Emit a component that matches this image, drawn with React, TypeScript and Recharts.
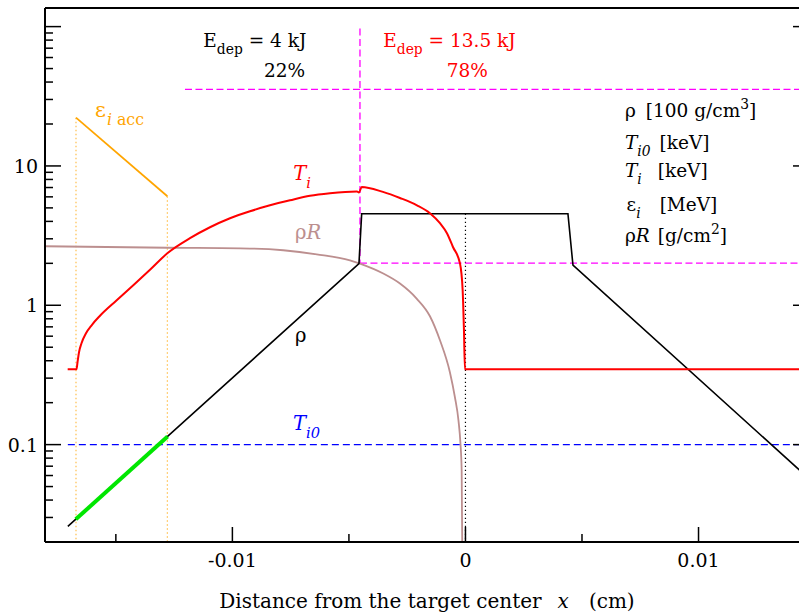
import React from 'react';
import { ComposedChart, Line, XAxis, YAxis, ReferenceDot } from 'recharts';

const SERIF = "'DejaVu Serif', serif";

// axis ranges: x in cm, y on a log scale
const xDomain: [number, number] = [-0.01804, 0.01474];
const yDomain: [number, number] = [0.02, 136];

const xTicks = [-0.015, -0.01, -0.005, 0, 0.005, 0.01];
const xTickLabels = [-0.01, 0, 0.01];
const yTicks = [
  0.02, 0.03, 0.04, 0.05, 0.06, 0.07, 0.08, 0.09,
  0.1, 0.2, 0.3, 0.4, 0.5, 0.6, 0.7, 0.8, 0.9,
  1, 2, 3, 4, 5, 6, 7, 8, 9,
  10, 20, 30, 40, 50, 60, 70, 80, 90, 100,
];
const yMajorTicks = [0.1, 1, 10, 100];
const yTickLabels = [0.1, 1, 10];

// density rho [100 g/cm^3]
const rhoX = [-0.01706, -0.004569, -0.004453, 0.004397, 0.004612, 0.014742];
const rhoY = [0.0259, 1.99, 4.54, 4.54, 1.94, 0.0569];

// part of the shell that gets accelerated
const accX = [-0.01672, -0.01278];
const accY = [0.0291, 0.1144];

// ion energy during acceleration, eps_i acc [MeV]
const epsX = [-0.01671, -0.01279];
const epsY = [22.2, 6.06];

// ion temperature T_i [keV]
const tiX = [
  -0.017067, -0.016688, -0.016645, -0.016581, -0.016474, -0.016281, -0.016024,
  -0.01568, -0.014964, -0.014252, -0.013535, -0.012763, -0.011819, -0.010961,
  -0.010103, -0.009245, -0.008387, -0.007529, -0.006671, -0.005813, -0.004655,
  -0.004569, -0.004453, -0.003539, -0.00281, -0.002081, -0.001523, -0.001094,
  -0.000794, -0.000536, -0.000236, -0.00012, -0.0000644, -0.0000215, 0.014742,
];
const tiY = [
  0.347, 0.347, 0.39, 0.46, 0.5336, 0.6295, 0.7244,
  0.841, 1.086, 1.392, 1.798, 2.382, 3.03, 3.63,
  4.21, 4.73, 5.22, 5.67, 6.11, 6.37, 6.55,
  6.44, 7.07, 6.51, 5.89, 5.22, 4.58, 3.88,
  3.29, 2.62, 2.0, 1.28, 0.661, 0.347, 0.347,
];

// areal density rho R [g/cm^2]
const rrX = [
  -0.01804, -0.012763, -0.009245, -0.007817, -0.006384, -0.004955, -0.004526,
  -0.003526, -0.00281, -0.002094, -0.001523, -0.001094, -0.000665, -0.00045,
  -0.0003, -0.000215, -0.000163, -0.000137,
];
const rrY = [
  2.652, 2.588, 2.553, 2.482, 2.323, 2.104, 1.99,
  1.689, 1.432, 1.117, 0.834, 0.561, 0.3294, 0.2179,
  0.1494, 0.1021, 0.0654, 0.018,
];

// initial ion temperature T_i0 [keV]
const ti0X = [-0.01706, 0.01474];
const ti0Y = [0.1, 0.1];

// guide lines
const depVX = [-0.004526, -0.004526];
const depVY = [96.9, 1.99];
const depTopX = [-0.012034, 0.01474];
const depTopY = [35.5, 35.5];
const depLowX = [-0.004526, 0.01474];
const depLowY = [2.01, 2.01];
const centerX = [0, 0];
const centerY = [4.54, 0.02];
const accStartX = [-0.01671, -0.01671];
const accStartY = [22.2, 0.02];
const accEndX = [-0.01279, -0.01279];
const accEndY = [6.06, 0.02];

const pts = (xs: number[], ys: number[]) => xs.map((x, i) => ({ x, y: ys[i] }));

type Part = { t: string; it?: boolean; sub?: boolean; sup?: boolean; dx?: number };

const Rich = ({ x, y, parts, size, fill, anchor = 'start' }: {
  x: number; y: number; parts: Part[]; size: number; fill: string; anchor?: string;
}) => {
  let level = 0;
  return (
    <text x={x} y={y} fontFamily={SERIF} fontSize={size} fill={fill} textAnchor={anchor}
      style={{ whiteSpace: 'pre' }}>
      {parts.map((p, k) => {
        const target = p.sub ? size * 0.4 : p.sup ? -size * 0.45 : 0;
        const dy = target - level;
        level = target;
        return (
          <tspan key={k} dx={p.dx} dy={dy} fontStyle={p.it ? 'italic' : 'normal'}
            fontSize={p.sub || p.sup ? size * 0.75 : size}>
            {p.t}
          </tspan>
        );
      })}
    </text>
  );
};

// text placed at data coordinates (baseline-left)
const notes: { x: number; y: number; size: number; fill: string; parts: Part[] }[] = [
  { x: -0.011248, y: 71.5, size: 18.5, fill: '#000', parts: [{ t: 'E' }, { t: 'dep', sub: true }, { t: ' = 4 kJ' }] },
  { x: -0.008644, y: 43.5, size: 18.5, fill: '#000', parts: [{ t: '22%' }] },
  { x: -0.003526, y: 71.5, size: 18.5, fill: '#ff0000', parts: [{ t: 'E' }, { t: 'dep', sub: true }, { t: ' = 13.5 kJ' }] },
  { x: -0.000807, y: 43.5, size: 18.5, fill: '#ff0000', parts: [{ t: '78%' }] },
  { x: 0.006843, y: 22.48, size: 18.5, fill: '#000', parts: [{ t: 'ρ' }, { t: '[100 g/cm', dx: 10 }, { t: '3', sup: true }, { t: ']' }] },
  { x: 0.006843, y: 13.33, size: 18.5, fill: '#000', parts: [{ t: 'T', it: true }, { t: 'i0', it: true, sub: true }, { t: '[keV]', dx: 9 }] },
  { x: 0.006843, y: 8.34, size: 18.5, fill: '#000', parts: [{ t: 'T', it: true }, { t: 'i', it: true, sub: true }, { t: '[keV]', dx: 16 }] },
  { x: 0.006915, y: 4.75, size: 18.5, fill: '#000', parts: [{ t: 'ε' }, { t: 'i', it: true, sub: true }, { t: '[MeV]', dx: 19 }] },
  { x: 0.006843, y: 2.847, size: 18.5, fill: '#000', parts: [{ t: 'ρ' }, { t: 'R', it: true }, { t: '[g/cm', dx: 8 }, { t: '2', sup: true }, { t: ']' }] },
  { x: -0.015894, y: 22.48, size: 21, fill: '#ffa500', parts: [{ t: 'ε' }, { t: 'i', it: true, sub: true, dx: 1 }, { t: ' acc', sub: true }] },
  { x: -0.007387, y: 7.89, size: 19.5, fill: '#ff0000', parts: [{ t: 'T', it: true }, { t: 'i', it: true, sub: true }] },
  { x: -0.007314, y: 3.012, size: 19.5, fill: '#bc8f8f', parts: [{ t: 'ρ' }, { t: 'R', it: true }] },
  { x: -0.007314, y: 0.545, size: 19.5, fill: '#000', parts: [{ t: 'ρ' }] },
  { x: -0.0074, y: 0.1266, size: 19.5, fill: '#0000ff', parts: [{ t: 'T', it: true }, { t: 'i0', it: true, sub: true }] },
];

const LeftTick = (props: any) => {
  const { x, y, payload } = props;
  const v = payload.value;
  const len = yMajorTicks.includes(v) ? 16 : 8;
  return (
    <g>
      <line x1={x} y1={y} x2={x + len} y2={y} stroke="#000" strokeWidth={1.5} />
      {yTickLabels.includes(v) && (
        <text x={x - 7} y={y + 7} textAnchor="end" fontFamily={SERIF} fontSize={19} fill="#000">
          {String(v)}
        </text>
      )}
    </g>
  );
};

const RightTick = (props: any) => {
  const { x, y, payload } = props;
  const len = yMajorTicks.includes(payload.value) ? 16 : 8;
  return <line x1={x} y1={y} x2={x - len} y2={y} stroke="#000" strokeWidth={1.5} />;
};

const BottomTick = (props: any) => {
  const { x, y, payload } = props;
  const v = payload.value;
  const labelled = xTickLabels.includes(v);
  return (
    <g>
      <line x1={x} y1={y} x2={x} y2={y - (labelled ? 15 : 8)} stroke="#000" strokeWidth={1.5} />
      {labelled && (
        <text x={x} y={y + 24.5} textAnchor="middle" fontFamily={SERIF} fontSize={19} fill="#000">
          {String(v)}
        </text>
      )}
    </g>
  );
};

const AxisTitle = (props: any) => {
  const vb = props.viewBox || { x: 45, y: 542, width: 764 };
  return (
    <Rich x={vb.x + vb.width / 2} y={vb.y + 66} size={20} fill="#000" anchor="middle"
      parts={[{ t: 'Distance from the target center' }, { t: 'x', it: true, dx: 16 }, { t: '(cm)', dx: 20 }]} />
  );
};

const guide = (key: string, xs: number[], ys: number[], stroke: string, dash: string, width = 1.3, opacity = 1) => (
  <Line key={key} data={pts(xs, ys)} dataKey="y" type="linear" stroke={stroke} strokeWidth={width}
    strokeDasharray={dash} strokeOpacity={opacity} dot={false} activeDot={false} isAnimationActive={false} />
);

export default function App() {
  return (
    <div style={{ position: 'absolute', left: 0, top: 0, width: 799, height: 615, overflow: 'hidden', background: '#fff' }}>
      <ComposedChart width={819} height={615} margin={{ top: 0, right: 0, bottom: 0, left: 0 }}>
        <XAxis dataKey="x" type="number" domain={xDomain} allowDataOverflow ticks={xTicks} interval={0}
          tick={<BottomTick />} tickLine={false} tickSize={0} tickMargin={0} height={73}
          axisLine={{ stroke: '#000', strokeWidth: 2 }} label={AxisTitle} />
        <XAxis xAxisId="top" orientation="top" dataKey="x" type="number" domain={xDomain} allowDataOverflow
          height={8} tick={false} tickLine={false} axisLine={{ stroke: '#000', strokeWidth: 2 }} />
        <YAxis type="number" scale="log" domain={yDomain} allowDataOverflow ticks={yTicks} interval={0}
          tick={<LeftTick />} tickLine={false} tickSize={0} tickMargin={0} width={45}
          axisLine={{ stroke: '#000', strokeWidth: 2 }} />
        <YAxis yAxisId="right" orientation="right" type="number" scale="log" domain={yDomain} allowDataOverflow
          ticks={yTicks} interval={0} tick={<RightTick />} tickLine={false} tickSize={0} tickMargin={0}
          width={10} axisLine={false} />

        {guide('accStart', accStartX, accStartY, '#ffa500', '1.5 2.5', 1.2, 0.7)}
        {guide('accEnd', accEndX, accEndY, '#ffa500', '1.5 2.5', 1.2, 0.7)}
        {guide('center', centerX, centerY, '#000', '1.2 2.8', 1.2)}
        {guide('depTop', depTopX, depTopY, '#ff00ff', '7 3.5')}
        {guide('depLow', depLowX, depLowY, '#ff00ff', '7 3.5')}
        {guide('depV', depVX, depVY, '#ff00ff', '7 3.5')}
        {guide('ti0', ti0X, ti0Y, '#0000ff', '7 4')}

        <Line data={pts(rrX, rrY)} dataKey="y" type="monotone" stroke="#bc8f8f" strokeWidth={1.8}
          dot={false} activeDot={false} isAnimationActive={false} />
        <Line data={pts(rhoX, rhoY)} dataKey="y" type="linear" stroke="#000" strokeWidth={1.6}
          dot={false} activeDot={false} isAnimationActive={false} />
        <Line data={pts(accX, accY)} dataKey="y" type="linear" stroke="#00e600" strokeWidth={4}
          dot={false} activeDot={false} isAnimationActive={false} />
        <Line data={pts(epsX, epsY)} dataKey="y" type="linear" stroke="#ffa500" strokeWidth={1.7}
          dot={false} activeDot={false} isAnimationActive={false} />
        <Line data={pts(tiX, tiY)} dataKey="y" type="monotone" stroke="#ff0000" strokeWidth={2}
          dot={false} activeDot={false} isAnimationActive={false} />

        {notes.map((n, k) => (
          <ReferenceDot key={`note${k}`} x={n.x} y={n.y} r={0} ifOverflow="visible"
            shape={(p: any) => <Rich x={p.cx} y={p.cy} parts={n.parts} size={n.size} fill={n.fill} />} />
        ))}
      </ComposedChart>
    </div>
  );
}
